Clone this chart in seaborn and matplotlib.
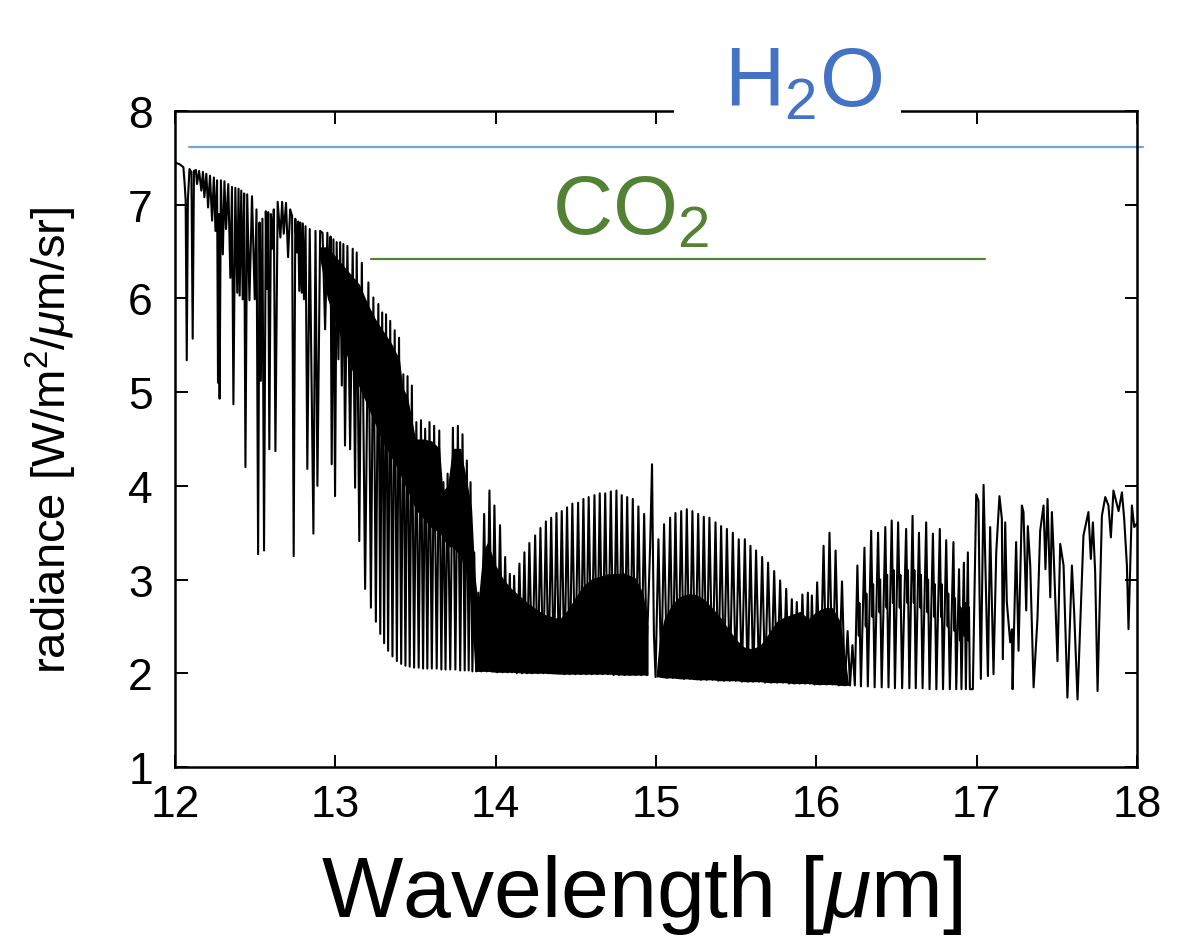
import numpy as np
import pandas as pd
import seaborn as sns
from matplotlib import pyplot as plt
from matplotlib.patches import Rectangle

# Radiance spectrum (wavelength in um, radiance in W/m2/um/sr)

# 12.0 - 13.13 um: irregular lines, traced top/dip by top/dip
h2o_wl = [12.000, 12.030, 12.052, 12.060, 12.066, 12.073, 12.080, 12.090, 12.102, 12.110,
          12.118, 12.130, 12.137, 12.150, 12.164, 12.174, 12.183, 12.195, 12.206, 12.218,
          12.231, 12.242, 12.252, 12.262, 12.268, 12.273, 12.278, 12.286, 12.298, 12.308,
          12.318, 12.332, 12.345, 12.355, 12.364, 12.376, 12.388, 12.396, 12.403, 12.413,
          12.422, 12.431, 12.439, 12.450, 12.464, 12.480, 12.497, 12.508, 12.518, 12.527,
          12.535, 12.545, 12.555, 12.566, 12.574, 12.581, 12.588, 12.598, 12.606, 12.616,
          12.626, 12.640, 12.657, 12.668, 12.678, 12.692, 12.705, 12.718, 12.730, 12.740,
          12.750, 12.760, 12.768, 12.775, 12.782, 12.790, 12.797, 12.804, 12.814, 12.825,
          12.840, 12.863, 12.876, 12.888, 12.905, 12.920, 12.936, 12.950, 12.963, 12.970,
          12.977, 12.988, 12.998, 13.008, 13.019, 13.030, 13.040, 13.050, 13.060, 13.075,
          13.092, 13.108, 13.123]
h2o_rad = [7.45, 7.43, 7.40, 7.22, 7.05, 5.34, 7.05, 7.38, 7.35, 5.57,
           7.36, 7.37, 7.22, 7.36, 7.15, 7.35, 7.08, 7.33, 6.97, 7.31,
           6.83, 7.29, 6.72, 7.26, 5.10, 6.90, 4.93, 7.26, 6.47, 7.25,
           6.74, 7.22, 6.22, 7.19, 4.87, 7.18, 6.06, 7.17, 6.03, 7.15,
           5.99, 7.12, 4.20, 7.11, 5.98, 7.09, 5.99, 6.95, 3.27, 6.81,
           5.12, 6.85, 3.31, 6.93, 6.10, 6.92, 4.39, 6.90, 6.53, 6.95,
           4.37, 7.03, 6.65, 7.03, 6.69, 7.02, 6.44, 6.95, 6.88, 3.25,
           6.85, 6.49, 6.82, 6.08, 6.81, 6.06, 6.80, 5.99, 6.77, 4.18,
           6.74, 3.49, 6.72, 4.00, 6.72, 6.70, 5.67, 6.70, 5.99, 6.66,
           4.23, 6.63, 3.89, 6.60, 5.35, 6.60, 5.07, 6.58, 4.43, 6.56,
           4.39, 6.53, 3.98]

# CO2 P-branch lines 13.13 - 13.96 um: peak top and the dip after it
p1_wl = [13.133, 13.165, 13.206, 13.237, 13.268, 13.292, 13.316, 13.342, 13.370, 13.397,
         13.424, 13.450, 13.477, 13.505, 13.534, 13.560, 13.587, 13.616, 13.648, 13.674,
         13.700, 13.733, 13.764, 13.793, 13.820, 13.843, 13.866, 13.892, 13.928, 13.961]
p1_top = [6.49, 6.38, 6.17, 6.01, 5.94, 5.85, 5.83, 5.76, 5.66, 5.58,
          5.19, 5.17, 5.07, 4.68, 4.70, 4.61, 4.68, 4.64, 4.59, 4.04,
          4.13, 4.62, 4.64, 4.55, 4.27, 4.04, 3.29, 2.86, 3.70, 3.95]
p1_low = [3.41, 2.90, 2.70, 2.55, 2.42, 2.32, 2.24, 2.18, 2.13, 2.10,
          2.08, 2.07, 2.06, 2.06, 2.05, 2.05, 2.05, 2.05, 2.04, 2.04,
          2.04, 2.04, 2.03, 2.03, 2.03, 2.02, 2.02, 2.02, 2.02, 2.02]

# 13.99 - 14.93 um
p2_wl = [13.992, 14.027, 14.059, 14.088, 14.115, 14.148, 14.179, 14.210, 14.246, 14.279,
         14.313, 14.346, 14.379, 14.412, 14.445, 14.478, 14.514, 14.547, 14.580, 14.616,
         14.649, 14.683, 14.718, 14.753, 14.786, 14.820, 14.855, 14.890, 14.926]
p2_top = [3.79, 3.58, 3.24, 3.06, 3.04, 3.17, 3.29, 3.39, 3.47, 3.55,
          3.62, 3.66, 3.71, 3.73, 3.77, 3.81, 3.82, 3.86, 3.88, 3.90,
          3.92, 3.92, 3.94, 3.95, 3.90, 3.88, 3.86, 3.78, 3.70]
p2_low = [2.01, 2.01, 2.01, 2.01, 2.00, 2.00, 2.00, 2.00, 2.00, 2.00,
          2.00, 2.00, 2.00, 1.99, 1.99, 1.99, 1.99, 1.99, 1.99, 1.99,
          1.99, 1.99, 1.98, 1.98, 1.98, 1.98, 1.98, 1.98, 1.98]

# Q-branch spike near 15 um
q_wl = [14.945, 14.955, 14.963, 14.970, 14.975, 14.980, 14.987, 14.997]
q_rad = [2.40, 2.90, 3.35, 3.85, 4.23, 3.40, 2.40, 1.96]

# R-branch 15.0 - 16.23 um
r1_wl = [15.015, 15.050, 15.088, 15.121, 15.157, 15.192, 15.227, 15.263, 15.298, 15.333,
         15.371, 15.406, 15.442, 15.479, 15.516, 15.554, 15.589, 15.624, 15.662, 15.699,
         15.737, 15.774, 15.812, 15.847, 15.878, 15.913, 15.947, 15.972, 16.005, 16.045,
         16.082, 16.120, 16.160, 16.195, 16.225]
r1_top = [3.43, 3.59, 3.66, 3.71, 3.73, 3.75, 3.73, 3.70, 3.67, 3.66,
          3.61, 3.57, 3.54, 3.50, 3.43, 3.43, 3.36, 3.31, 3.24, 3.18,
          3.09, 2.99, 2.90, 2.79, 2.76, 2.84, 2.86, 2.83, 2.97, 3.36,
          3.50, 3.31, 2.98, 2.45, 2.30]
r1_low = [1.96, 1.95, 1.95, 1.95, 1.94, 1.94, 1.94, 1.93, 1.93, 1.93,
          1.92, 1.92, 1.92, 1.92, 1.91, 1.91, 1.91, 1.91, 1.90, 1.90,
          1.90, 1.90, 1.89, 1.89, 1.89, 1.89, 1.89, 1.88, 1.88, 1.88,
          1.88, 1.87, 1.87, 1.87, 1.87]

# 16.25 - 16.95 um
r2_wl = [16.256, 16.300, 16.342, 16.385, 16.430, 16.470, 16.510, 16.560, 16.600, 16.640,
         16.685, 16.727, 16.770, 16.810, 16.855, 16.890, 16.920, 16.945]
r2_top = [3.15, 3.34, 3.52, 3.50, 3.56, 3.63, 3.61, 3.54, 3.68, 3.50,
          3.61, 3.49, 3.54, 3.42, 3.40, 3.11, 3.18, 3.29]
r2_low = [1.86, 1.86, 1.85, 1.85, 1.85, 1.84, 1.84, 1.84, 1.84, 1.84,
          1.83, 1.83, 1.83, 1.83, 1.83, 1.83, 1.83, 1.83]
# shoulder level of the weaker line beside each peak in this stretch
r2_mid = [2.75, 2.85, 2.95, 3.00, 3.05, 3.10, 3.05, 3.10, 3.10, 3.05,
          3.00, 2.95, 2.95, 2.85, 2.80, 2.70, 2.75, 2.70]

# 16.97 - 18.0 um: window lines, traced top/dip by top/dip
tail_wl = [16.976, 16.997, 17.011, 17.018, 17.026, 17.043, 17.059, 17.070, 17.084, 17.105,
           17.122, 17.142, 17.157, 17.163, 17.178, 17.188, 17.209, 17.220, 17.224, 17.246,
           17.261, 17.282, 17.292, 17.309, 17.319, 17.334, 17.355, 17.379, 17.396, 17.417,
           17.429, 17.442, 17.459, 17.469, 17.479, 17.504, 17.521, 17.542, 17.566, 17.594,
           17.608, 17.629, 17.666, 17.697, 17.712, 17.725, 17.739, 17.754, 17.781, 17.802,
           17.822, 17.837, 17.853, 17.885, 17.906, 17.920, 17.937, 17.947, 17.968, 17.983,
           18.000]
tail_rad = [1.83, 3.91, 3.84, 2.83, 1.94, 4.01, 2.81, 1.97, 3.56, 1.99,
            3.29, 3.89, 3.65, 2.15, 3.61, 2.76, 2.33, 2.47, 1.83, 3.40,
            2.24, 3.79, 3.72, 2.67, 3.57, 3.15, 1.85, 2.58, 3.52, 3.79,
            3.11, 3.86, 2.81, 3.72, 3.33, 2.13, 3.38, 3.15, 1.74, 3.15,
            2.65, 1.72, 3.47, 3.72, 3.22, 3.61, 3.08, 1.81, 3.68, 3.88,
            3.79, 3.45, 3.95, 3.73, 3.93, 3.65, 3.15, 2.47, 3.79, 3.56,
            3.60]

# dense unresolved weak lines (solid black areas)
dense1_wl = [12.90, 12.95, 13.00, 13.05, 13.10, 13.15, 13.20, 13.25, 13.30, 13.35,
             13.40, 13.42, 13.45, 13.50, 13.55, 13.60, 13.65, 13.67, 13.70, 13.73,
             13.78, 13.82, 13.85, 13.87, 13.89, 13.92, 13.95, 14.00, 14.05, 14.10,
             14.20, 14.30, 14.40, 14.45, 14.50, 14.55, 14.60, 14.70, 14.80, 14.87,
             14.92, 14.95]
dense1_top = [6.55, 6.55, 6.45, 6.35, 6.25, 6.15, 5.95, 5.78, 5.65, 5.52,
              5.35, 5.05, 4.95, 4.50, 4.50, 4.48, 4.40, 3.95, 4.00, 4.40,
              4.40, 4.05, 3.75, 3.05, 2.75, 3.30, 3.40, 3.15, 3.00, 2.90,
              2.75, 2.63, 2.58, 2.68, 2.82, 2.94, 3.01, 3.06, 3.07, 3.02,
              2.85, 2.50]
dense1_bot = [6.45, 6.00, 5.75, 5.50, 5.25, 5.05, 4.85, 4.65, 4.45, 4.30,
              4.15, 4.05, 3.95, 3.75, 3.65, 3.55, 3.50, 3.45, 3.35, 3.35,
              3.25, 3.05, 2.65, 2.02, 2.02, 2.02, 2.02, 2.01, 2.01, 2.01,
              2.00, 2.00, 1.99, 1.99, 1.99, 1.99, 1.99, 1.99, 1.98, 1.98,
              1.98, 1.98]

dense2_wl = [15.00, 15.02, 15.05, 15.10, 15.15, 15.20, 15.25, 15.30, 15.35, 15.40,
             15.45, 15.50, 15.55, 15.60, 15.65, 15.70, 15.75, 15.80, 15.85, 15.90,
             15.95, 16.00, 16.05, 16.10, 16.15, 16.20]
dense2_top = [1.97, 2.35, 2.58, 2.74, 2.82, 2.85, 2.84, 2.79, 2.70, 2.60,
              2.48, 2.36, 2.28, 2.26, 2.30, 2.42, 2.55, 2.60, 2.63, 2.66,
              2.58, 2.66, 2.70, 2.70, 2.55, 1.90]
dense2_bot = [1.96, 1.96, 1.95, 1.95, 1.94, 1.94, 1.93, 1.93, 1.93, 1.92,
              1.92, 1.92, 1.91, 1.91, 1.91, 1.90, 1.90, 1.90, 1.89, 1.89,
              1.89, 1.88, 1.88, 1.88, 1.87, 1.87]

# absorber band markers
h2o_band = [12.09, 18.04]
h2o_level = 7.62
co2_band = [13.22, 17.05]
co2_level = 6.42


def comb(wl, top, low, mid=None):
    # line peaks joined through the dip that follows each one
    xs, ys = [], []
    for i in range(len(wl)):
        step = wl[i + 1] - wl[i] if i < len(wl) - 1 else wl[i] - wl[i - 1]
        xs.append(wl[i])
        ys.append(top[i])
        if mid is not None:
            xs += [wl[i] + step * 0.2, wl[i] + step * 0.28]
            ys += [mid[i] - 0.35, mid[i]]
        xs.append(wl[i] + step / 2)
        ys.append(low[i])
    return xs, ys


parts = [(h2o_wl, h2o_rad), comb(p1_wl, p1_top, p1_low), comb(p2_wl, p2_top, p2_low),
         (q_wl, q_rad), comb(r1_wl, r1_top, r1_low), comb(r2_wl, r2_top, r2_low, r2_mid),
         (tail_wl, tail_rad)]
spec = pd.DataFrame({'wl': [x for p in parts for x in p[0]],
                     'rad': [y for p in parts for y in p[1]]})

sns.set_style("ticks")
plt.rcParams['font.family'] = ['Liberation Sans', 'DejaVu Sans']
plt.rcParams['mathtext.fontset'] = 'custom'
plt.rcParams['mathtext.rm'] = 'Liberation Sans'
plt.rcParams['mathtext.it'] = 'Liberation Sans:italic'
plt.rcParams['text.color'] = 'black'
plt.rcParams['xtick.color'] = 'black'
plt.rcParams['ytick.color'] = 'black'

fig = plt.figure(figsize=(11.78, 9.37), dpi=100)
ax = fig.add_axes([0.1486, 0.1804, 0.8166, 0.7001])

ax.fill_between(dense1_wl, dense1_bot, dense1_top, color='black', lw=0)
ax.fill_between(dense2_wl, dense2_bot, dense2_top, color='black', lw=0)
sns.lineplot(data=spec, x='wl', y='rad', sort=False, estimator=None,
             color='black', lw=1.5, ax=ax)

ax.plot(h2o_band, [h2o_level, h2o_level], color='#6fa8dc', lw=1.6, clip_on=False)
ax.plot(co2_band, [co2_level, co2_level], color='#548235', lw=1.6)

ax.set_xlim(12, 18)
ax.set_ylim(1, 8)
ax.set_xticks(range(12, 19))
ax.set_yticks(range(1, 9))
ax.set_xlabel('')
ax.set_ylabel('')
ax.tick_params(direction='in', length=9, width=1.4, top=True, right=True,
               labelsize=32, color='black', labelcolor='black')
ax.tick_params(axis='x', pad=12)
ax.tick_params(axis='y', pad=16)
for s in ax.spines.values():
    s.set_linewidth(1.8)
    s.set_color('black')

# white patch that breaks the top frame behind the H2O label
ax.add_patch(Rectangle((0.519, 0.975), 0.236, 0.06, transform=ax.transAxes,
                       facecolor='white', edgecolor='none', clip_on=False, zorder=5))
ax.text(15.92, 8.05, r'H$_\mathregular{2}$O', fontsize=60, color='#4472c4',
        ha='center', va='baseline', zorder=6, clip_on=False)
ax.text(14.84, 6.69, r'CO$_\mathregular{2}$', fontsize=60, color='#548235',
        ha='center', va='baseline', zorder=6)

fig.text(0.545, 0.021, r'Wavelength [$\mu$m]', fontsize=62, ha='center', va='baseline')
fig.text(0.044, 0.53, r'radiance [W/m$^\mathregular{2}$/$\mu$m/sr]', fontsize=34,
         rotation=90, ha='center', va='center')

fig.savefig('out.png', dpi=100)
